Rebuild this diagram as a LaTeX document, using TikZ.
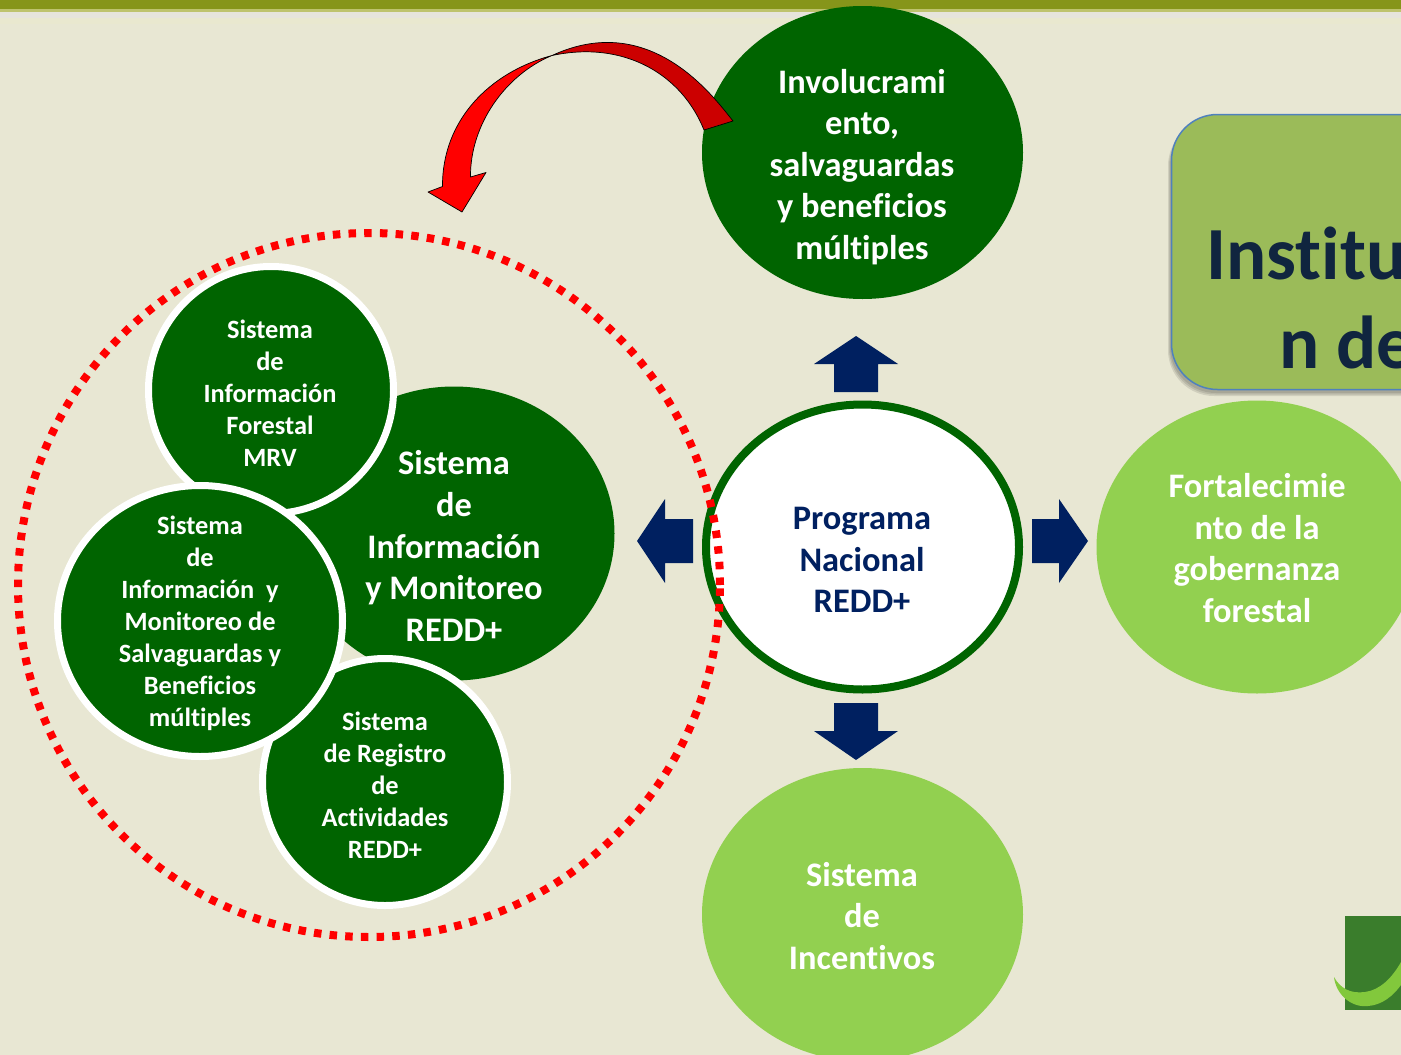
\documentclass[tikz,border=0pt]{standalone}
\usepackage{fontspec}
\setmainfont[Ligatures=NoCommon]{Carlito}
\usetikzlibrary{shapes.geometric}
\definecolor{bgc}{HTML}{E8E7D3}
\definecolor{dkg}{HTML}{006400}
\definecolor{ltg}{HTML}{92D050}
\definecolor{navyb}{HTML}{002060}
\definecolor{oliveb}{HTML}{9BBB59}
\definecolor{inkb}{HTML}{10253F}
\definecolor{bandc}{RGB}{134,149,26}
\definecolor{bandl}{RGB}{190,195,110}
\definecolor{bandg}{RGB}{230,228,220}
\definecolor{bandy}{RGB}{233,232,207}
\definecolor{boxline}{RGB}{79,129,189}
\definecolor{logod}{RGB}{58,125,44}
\definecolor{logol}{RGB}{130,200,60}
\definecolor{redd}{RGB}{204,0,0}
\definecolor{redb}{RGB}{255,0,0}
\tikzset{
  darkblob/.style={shape=ellipse,inner sep=0pt,fill=dkg},
  lightblob/.style={shape=ellipse,inner sep=0pt,fill=ltg},
  ringblob/.style={shape=ellipse,inner sep=0pt,fill=dkg,draw=white,line width=7pt},
  bigtxt/.style={align=center,text=white,font=\fontsize{34.4}{41.6}\selectfont\bfseries},
  smalltxt/.style={align=center,text=white,font=\fontsize{26.4}{32}\selectfont\bfseries},
  boxtxt/.style={anchor=base west,inner sep=0pt,text=inkb,font=\fontsize{75}{90}\selectfont\bfseries},
  blockarrow/.style={fill=navyb,draw=none},
  bentarrow/.style={draw=black,line width=0.7pt,line join=round},
  softshadow/.style={fill=black,fill opacity=0.10,rounded corners=46pt}
}
\begin{document}
\begin{tikzpicture}[x=1pt,y=-1pt]
\useasboundingbox (0,0) rectangle (1401,1055);
\fill[bgc] (0,0) rectangle (1401,1055);
\fill[bandy] (0,18) rectangle (1401,24);
\fill[bandg] (0,12) rectangle (1401,18);
\fill[bandl] (0,9) rectangle (1401,11.5);
\fill[bandc] (0,0) rectangle (1401,9);

% institution box
\fill[softshadow] (1460,120) -- (1168,120) -- (1168,396) -- (1460,396);
\fill[softshadow] (1460,120) -- (1169,120) -- (1169,394.5) -- (1460,394.5);
\fill[softshadow] (1460,120) -- (1170,120) -- (1170,393) -- (1460,393);
\draw[draw=boxline,line width=1.5pt,fill=oliveb,rounded corners=46pt]
  (1460,114.5) -- (1171.5,114.5) -- (1171.5,389.5) -- (1460,389.5);
\node[boxtxt] (inst1) at (1206,279) {Institu};
\node[boxtxt] (inst2) at (1279,368) {n de};

% logo
\fill[logod] (1344.5,916) rectangle (1401,1010);
\fill[logol] (1334,977) .. controls (1336,995) and (1352,1008) .. (1368,1006) .. controls (1382,1005) and (1393,996) .. (1401,985) -- (1401,962) .. controls (1392,978) and (1380,990) .. (1365,992) .. controls (1350,994) and (1340,988) .. (1334,977) -- cycle;

% outer blobs
\node[darkblob,minimum width=321pt,minimum height=293pt] (invol) at (862.5,152.5) {};
\node[bigtxt] (involt) at (862,167) {Involucrami\\ento,\\salvaguardas\\y beneficios\\múltiples};
\node[lightblob,minimum width=321pt,minimum height=293pt] (fort) at (1257,547) {};
\node[bigtxt] (fortt) at (1257,548) {Fortalecimie\\nto de la\\gobernanza\\forestal};
\node[lightblob,minimum width=321pt,minimum height=293pt] (inc) at (862.5,914.5) {};
\node[bigtxt] (inct) at (862,916) {Sistema\\de\\Incentivos};
\node[shape=ellipse,inner sep=0pt,fill=white,draw=dkg,line width=8pt,minimum width=313pt,minimum height=285pt] (prog) at (862.5,547) {};
\node[bigtxt,text=navyb] (progt) at (862,560) {Programa\\Nacional\\REDD+};

% block arrows
\fill[blockarrow] (856,336) -- (898,364) -- (878,364) -- (878,392) -- (834,392) -- (834,364) -- (814,364) -- cycle;
\fill[blockarrow] (856,760) -- (898,731) -- (878,731) -- (878,703) -- (834,703) -- (834,731) -- (814,731) -- cycle;
\fill[blockarrow] (637,541) -- (665,499) -- (665,519) -- (693,519) -- (693,563) -- (665,563) -- (665,583) -- cycle;
\fill[blockarrow] (1088,541) -- (1059,499) -- (1059,519) -- (1032,519) -- (1032,563) -- (1059,563) -- (1059,583) -- cycle;

% inner blobs
\node[darkblob,minimum width=321pt,minimum height=294pt] (big) at (454,533.5) {};
\node[bigtxt] (bigt) at (454,546) {Sistema\\de\\Información\\y Monitoreo\\REDD+};
\node[ringblob,minimum width=245pt,minimum height=247pt] (forest) at (271,390) {};
\node[smalltxt] (forestt) at (270,393) {Sistema\\de\\Información\\Forestal\\MRV};
\node[ringblob,minimum width=245pt,minimum height=247pt] (reg) at (385,782) {};
\node[smalltxt] (regt) at (385,785) {Sistema\\de Registro\\de\\Actividades\\REDD+};
\node[ringblob,minimum width=285pt,minimum height=271pt] (salv) at (200,621) {};
\node[smalltxt] (salvt) at (200,623) {Sistema\\de\\Información~~y\\Monitoreo de\\Salvaguardas y\\Beneficios\\múltiples};

% dotted ring
\node[shape=ellipse,inner sep=0pt,draw=redb,line width=8pt,dash pattern=on 7.5pt off 8.2pt,minimum width=702pt,minimum height=704pt] (ring) at (369,585) {};

% curved arrow
\draw[bentarrow,fill=redd] (704,130) -- (733,121) .. controls (713,96) and (650,10) .. (552,55.5) .. controls (625,40) and (682,75) .. (704,130) -- cycle;
\draw[bentarrow,fill=redb] (552,55.5) .. controls (490,72) and (442,120) .. (442.5,186.5) -- (428,192) -- (462,212) -- (486,172.5) -- (470.5,177) .. controls (470,125) and (505,75) .. (552,55.5) -- cycle;
\end{tikzpicture}
\end{document}
